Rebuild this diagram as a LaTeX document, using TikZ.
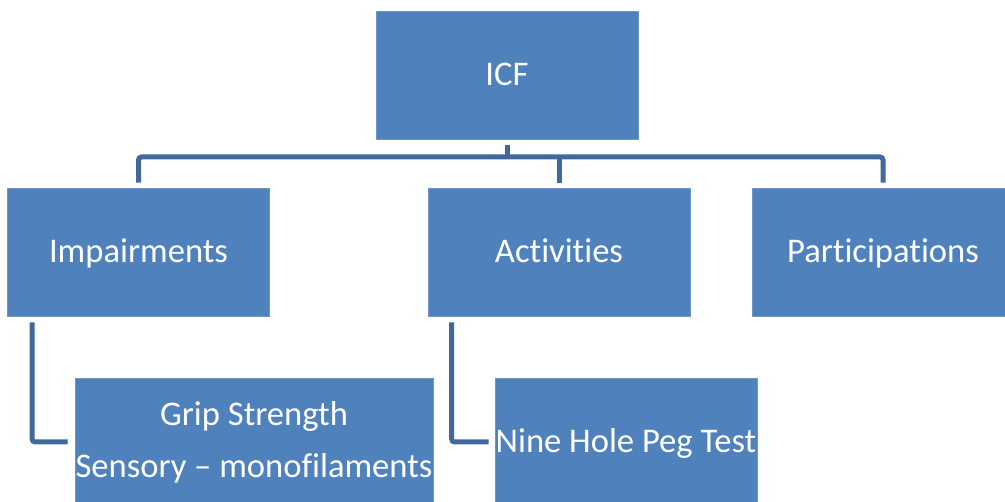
\documentclass[tikz,border=0pt]{standalone}
\usepackage{fontspec}
\setmainfont[Ligatures=NoCommon]{Carlito}
\definecolor{boxblue}{HTML}{4F81BD}
\definecolor{boxedge}{HTML}{7096C8}
\definecolor{connblue}{HTML}{41699D}
\begin{document}
\begin{tikzpicture}[x=1pt,y=-1pt,
  box/.style={rectangle, fill=boxblue, draw=boxedge, line width=0.8pt,
    minimum width=262pt, minimum height=128pt, inner sep=0pt,
    text=white, align=center, font=\fontsize{34.6}{52}\selectfont},
  oneline/.style={box, text height=27pt, text depth=6pt},
  conn/.style={draw=connblue, line width=5pt, rounded corners=3pt}]
\useasboundingbox (0,0) rectangle (1005,502);
\clip (0,0) rectangle (1005,502);
\node[oneline] (icf) at (507,75.5) {ICF};
\node[oneline] (imp) at (138.5,252) {Impairments};
\node[oneline] (act) at (559,252) {Activities};
\node[oneline] (part) at (883,252) {Participations};
\node[box, minimum width=358pt] (grip) at (254,442) {Grip Strength\\Sensory -- monofilaments};
\node[oneline] (nine) at (626,442) {Nine Hole Peg Test};
\coordinate (bus) at (507,157);
\draw[conn] ([yshift=-5pt]icf.south) -- (bus);
\draw[conn] ([yshift=5pt]imp.north) |- (bus) -| ([yshift=5pt]part.north);
\draw[conn] (bus -| act.north) -- ([yshift=5pt]act.north);
\draw[conn] ([xshift=25pt,yshift=-6pt]imp.south west) |- ([xshift=-7pt]grip.west);
\draw[conn] ([xshift=24pt,yshift=-6pt]act.south west) |- ([xshift=-6pt]nine.west);
\end{tikzpicture}
\end{document}
